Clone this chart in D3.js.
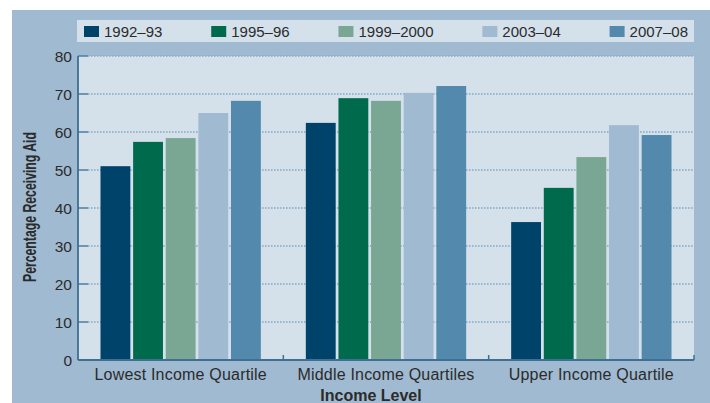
<!DOCTYPE html>
<html>
<head>
<meta charset="utf-8">
<script src="https://cdn.jsdelivr.net/npm/d3@7"></script>
<style>
  html, body { margin: 0; padding: 0; background: #ffffff; }
  svg { display: block; }
  text { font-family: "Liberation Sans", Arial, Helvetica, sans-serif; fill: #2b2b2b; }
</style>
</head>
<body>
<svg id="chart" width="710" height="403"></svg>
<script>
// Share of students receiving aid, by income quartile and survey year
const categories = ["Lowest Income Quartile", "Middle Income Quartiles", "Upper Income Quartile"];
const seriesNames = ["1992\u201393", "1995\u201396", "1999\u20132000", "2003\u201304", "2007\u201308"];
const values1992 = [51.0, 62.4, 36.3];
const values1995 = [57.4, 68.9, 45.3];
const values1999 = [58.4, 68.2, 53.4];
const values2003 = [65.0, 70.3, 61.8];
const values2007 = [68.2, 72.1, 59.2];
const yTicks = [0, 10, 20, 30, 40, 50, 60, 70, 80];
const seriesColors = ["#00436a", "#006a4d", "#7aa794", "#a0bad1", "#5389ac"];

const seriesValues = [values1992, values1995, values1999, values2003, values2007];

const svg = d3.select("#chart");
const W = 710, H = 403;

// frame
svg.append("rect").attr("x", 12).attr("y", 10).attr("width", W - 12).attr("height", H - 10)
  .attr("fill", "#a0bad1");

const plot = { left: 78, right: 694, top: 56, bottom: 360 };

svg.append("rect")
  .attr("x", plot.left).attr("y", plot.top)
  .attr("width", plot.right - plot.left).attr("height", plot.bottom - plot.top)
  .attr("fill", "#d4e1eb");

const x0 = d3.scaleBand().domain(categories).range([plot.left, plot.right]).padding(0);
const groupInset = 22.5;
const x1 = d3.scaleBand().domain(seriesNames)
  .range([groupInset, x0.bandwidth() - groupInset]).paddingInner(0.085).paddingOuter(0);
const y = d3.scaleLinear().domain([0, 80]).range([plot.bottom, plot.top]);

// dotted gridlines
svg.append("g").selectAll("line").data(yTicks.filter(d => d > 0)).join("line")
  .attr("x1", plot.left + 10).attr("x2", plot.right)
  .attr("y1", d => y(d)).attr("y2", d => y(d))
  .attr("stroke", "#87a9c4").attr("stroke-width", 1.6)
  .attr("stroke-dasharray", "1.6,1.4");

// bars
const groups = svg.append("g").selectAll("g").data(categories).join("g")
  .attr("transform", d => `translate(${x0(d)},0)`);
groups.selectAll("rect")
  .data((c, ci) => seriesNames.map((s, si) => ({ s, si, v: seriesValues[si][ci] })))
  .join("rect")
  .attr("x", d => x1(d.s))
  .attr("width", x1.bandwidth())
  .attr("y", d => y(d.v))
  .attr("height", d => y(0) - y(d.v))
  .attr("fill", d => seriesColors[d.si]);

// y axis
const yAxis = d3.axisLeft(y).tickValues(yTicks).tickSize(0).tickPadding(6);
const yg = svg.append("g").attr("transform", `translate(${plot.left},0)`).call(yAxis);
yg.select(".domain").remove();
yg.selectAll("text").attr("font-size", 15.5).attr("fill", "#2b2b2b")
  .attr("font-family", "Liberation Sans, Arial, sans-serif").attr("dy", "0.36em");
// tick stubs
svg.append("g").selectAll("line").data(yTicks).join("line")
  .attr("x1", plot.left).attr("x2", plot.left + 10)
  .attr("y1", d => y(d)).attr("y2", d => y(d))
  .attr("stroke", "#4e7d9f").attr("stroke-width", 1.5);

// axis lines
svg.append("line").attr("x1", plot.left).attr("x2", plot.left)
  .attr("y1", plot.top).attr("y2", plot.bottom)
  .attr("stroke", "#3f6f92").attr("stroke-width", 1.8);

const xAxis = d3.axisBottom(x0).tickSize(0).tickPadding(9);
const xg = svg.append("g").attr("transform", `translate(0,${plot.bottom})`).call(xAxis);
xg.select(".domain").remove();
xg.selectAll("text").attr("font-size", 16).attr("letter-spacing", 0.2).attr("fill", "#2b2b2b")
  .attr("font-family", "Liberation Sans, Arial, sans-serif");

svg.append("line").attr("x1", plot.left).attr("x2", plot.right)
  .attr("y1", plot.bottom).attr("y2", plot.bottom)
  .attr("stroke", "#3f6f92").attr("stroke-width", 1.8);
// group boundary ticks pointing up
const bounds = categories.slice(1).map(c => x0(c)).concat([plot.right]);
svg.append("g").selectAll("line").data(bounds).join("line")
  .attr("x1", d => d).attr("x2", d => d)
  .attr("y1", plot.bottom).attr("y2", plot.bottom - 5)
  .attr("stroke", "#3f6f92").attr("stroke-width", 1.5);

// axis titles
svg.append("text").attr("x", 371).attr("y", 401)
  .attr("text-anchor", "middle").attr("font-weight", "bold").attr("font-size", 16)
  .attr("fill", "#111").text("Income Level");

// condensed vertical title
svg.append("text")
  .attr("transform", `translate(36,207) rotate(-90)`)
  .attr("text-anchor", "middle").attr("font-weight", "bold").attr("font-size", 17.5)
  .attr("textLength", 150).attr("lengthAdjust", "spacingAndGlyphs")
  .attr("fill", "#111").text("Percentage Receiving Aid");

// legend
const legBox = { x: 77, y: 20, w: 617, h: 22 };
svg.append("rect").attr("x", legBox.x).attr("y", legBox.y)
  .attr("width", legBox.w).attr("height", legBox.h).attr("fill", "#d4e1eb");

const legend = svg.append("g");
const items = legend.selectAll("g").data(seriesNames).join("g");
items.append("rect").attr("x", 0).attr("y", 26).attr("width", 15).attr("height", 11)
  .attr("fill", (d, i) => seriesColors[i]);
items.append("text").attr("x", 20).attr("y", 37).attr("font-size", 15)
  .attr("fill", "#2b2b2b").text(d => d);

// spread the items evenly across the legend box
const widths = [];
items.each(function () { widths.push(20 + this.querySelector("text").getComputedTextLength()); });
const padL = 7, padR = 6;
const gap = (legBox.w - padL - padR - d3.sum(widths)) / (widths.length - 1);
let cx = legBox.x + padL;
items.attr("transform", (d, i) => { const t = `translate(${cx},0)`; cx += widths[i] + gap; return t; });
</script>
</body>
</html>
